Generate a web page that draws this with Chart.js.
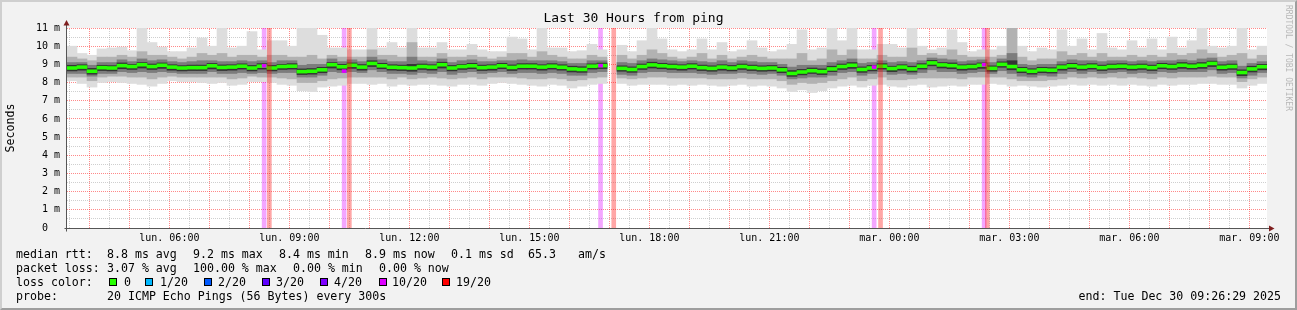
<!DOCTYPE html>
<html>
<head>
<meta charset="utf-8">
<title>Last 30 Hours from ping</title>
<script src="https://cdn.jsdelivr.net/npm/chart.js@4.4.1/dist/chart.umd.min.js"></script>
<style>
  body { margin: 0; background: #f2f2f2; }
  #frame { position: relative; width: 1297px; height: 310px; background: #f2f2f2; overflow: hidden;
           font-family: 'DejaVu Sans Mono', monospace; font-size: 11.6px; color: #000; }
  #frame canvas { position: absolute; left: 0; top: 0; }
  #shade { position: absolute; left: 0; top: 0; width: 1297px; height: 310px; box-sizing: border-box;
           border-top: 2px solid #cfcfcf; border-left: 2px solid #cfcfcf;
           border-bottom: 2px solid #9e9e9e; border-right: 2px solid #9e9e9e; pointer-events: none; }
  .lg { position: absolute; white-space: pre; line-height: 14px; height: 14px; }
  .box { position: absolute; width: 6px; height: 6px; border: 1px solid #000; top: 278px; }
  #wm { position: absolute; left: 1283px; top: 5px; writing-mode: vertical-rl; font-size: 8px;
        line-height: 10px; color: #b8b8b8; white-space: pre; }
</style>
</head>
<body>
<div id="frame">
  <canvas id="ping" width="1297" height="310"></canvas>

  <span class="lg" style="left:16px;top:247px">median rtt:</span>
  <span class="lg" style="left:107px;top:247px">8.8 ms avg</span>
  <span class="lg" style="left:193px;top:247px">9.2 ms max</span>
  <span class="lg" style="left:279px;top:247px">8.4 ms min</span>
  <span class="lg" style="left:365px;top:247px">8.9 ms now</span>
  <span class="lg" style="left:451px;top:247px">0.1 ms sd</span>
  <span class="lg" style="left:528px;top:247px">65.3</span>
  <span class="lg" style="left:578px;top:247px">am/s</span>

  <span class="lg" style="left:16px;top:261px">packet loss:</span>
  <span class="lg" style="left:107px;top:261px">3.07 % avg</span>
  <span class="lg" style="left:193px;top:261px">100.00 % max</span>
  <span class="lg" style="left:293px;top:261px">0.00 % min</span>
  <span class="lg" style="left:379px;top:261px">0.00 % now</span>

  <span class="lg" style="left:16px;top:275px">loss color:</span>
  <span class="box" style="left:109px;background:#26ff00"></span><span class="lg" style="left:124px;top:275px">0</span>
  <span class="box" style="left:145px;background:#00b8ff"></span><span class="lg" style="left:160px;top:275px">1/20</span>
  <span class="box" style="left:204px;background:#0059ff"></span><span class="lg" style="left:218px;top:275px">2/20</span>
  <span class="box" style="left:262px;background:#5e00ff"></span><span class="lg" style="left:276px;top:275px">3/20</span>
  <span class="box" style="left:320px;background:#7e00ff"></span><span class="lg" style="left:334px;top:275px">4/20</span>
  <span class="box" style="left:379px;background:#dd00ff"></span><span class="lg" style="left:392px;top:275px">10/20</span>
  <span class="box" style="left:442px;background:#ff0000"></span><span class="lg" style="left:456px;top:275px">19/20</span>

  <span class="lg" style="left:16px;top:289px">probe:</span>
  <span class="lg" style="left:107px;top:289px">20 ICMP Echo Pings (56 Bytes) every 300s</span>
  <span class="lg" style="right:16px;top:289px">end: Tue Dec 30 09:26:29 2025</span>

  <span id="wm">RRDTOOL / TOBI OETIKER</span>
  <div id="shade"></div>
</div>

<script>
// time axis in hours since lun. 00:00; graph runs lun. 03:26:29 -> mar. 09:26:29
const START = 3 + 26 / 60 + 29 / 3600;
const END = START + 30;
const SLOT = 0.25;   // one smoke column = 15 minutes

const TITLE = 'Last 30 Hours from ping';
const xTickHours = [6, 9, 12, 15, 18, 21, 24, 27, 30, 33];
const xTickLabels = ['lun. 06:00', 'lun. 09:00', 'lun. 12:00', 'lun. 15:00', 'lun. 18:00',
                     'lun. 21:00', 'mar. 00:00', 'mar. 03:00', 'mar. 06:00', 'mar. 09:00'];
const yTickLabels = ['0  ', '1 m', '2 m', '3 m', '4 m', '5 m', '6 m', '7 m', '8 m', '9 m', '10 m', '11 m'];

// median rtt (ms) per 15 min slot
const medianMs = [
  8.80,8.85,8.62,8.82,8.80,8.93,8.88,8.98,8.88,8.95,
  8.85,8.80,8.82,8.82,8.92,8.83,8.85,8.90,8.80,8.90,
  8.80,8.88,8.90,8.60,8.62,8.70,8.98,8.87,8.95,8.85,
  9.05,8.92,8.84,8.82,8.80,8.88,8.85,8.98,8.80,8.88,
  8.92,8.82,8.85,8.92,8.83,8.90,8.90,8.85,8.90,8.84,
  8.75,8.72,8.90,8.93,null,8.78,8.72,8.88,8.97,8.92,
  8.88,8.85,8.90,8.82,8.78,8.85,8.80,8.88,8.82,8.78,
  8.80,8.70,8.50,8.58,8.65,8.60,8.75,8.88,8.95,8.72,
  8.80,8.90,8.77,8.85,8.75,8.90,9.08,8.97,8.93,8.85,
  8.88,8.95,8.78,9.00,8.88,8.70,8.62,8.70,8.68,8.85,
  8.92,8.85,8.90,8.82,8.88,8.90,8.85,8.88,8.82,8.92,
  8.88,8.95,8.90,8.95,9.05,8.84,8.88,8.55,8.75,8.87];

// slowest / fastest ping of the 20
const maxMs = [
  10.0,9.6,9.5,9.85,9.9,9.95,9.75,11,10.2,9.95,
  9.7,9.7,9.9,10.45,10.0,11,9.9,10.0,10.8,9.8,
  10.3,10.3,10.0,11,11,10.6,9.9,9.9,9.8,9.8,
  11,9.9,10.2,9.9,11,9.9,9.9,10.2,9.8,9.8,
  10.1,9.8,9.7,9.7,10.5,10.4,9.8,11,9.9,9.9,
  9.7,9.75,10.1,9.8,null,10.05,9.7,10.3,11,10.4,
  9.8,9.7,9.8,10.4,9.8,10.2,9.7,9.8,10.3,9.9,
  9.7,9.8,10.1,10.9,9.8,9.9,11,10.3,11,9.8,
  9.8,10.1,10.1,9.9,11,10.0,9.8,9.9,10.9,10.2,
  9.7,9.8,9.8,10.0,11,10.0,9.7,9.9,9.8,10.9,
  10.0,10.4,9.8,10.7,9.9,9.8,10.3,9.9,10.4,9.8,
  10.5,9.9,10.3,11,10.0,9.9,10.0,11,9.8,10.0];
const minMs = [
  8.1,7.95,7.75,8.0,8.05,8.0,7.95,7.9,7.8,7.95,
  8.1,8.05,8.05,8.0,7.95,8.0,7.85,7.9,8.05,8.05,
  8.0,7.9,7.85,7.55,7.5,7.75,7.8,7.85,7.95,7.95,
  7.9,7.95,7.8,7.9,7.85,7.9,7.9,7.85,7.8,7.9,
  7.9,7.85,7.95,8.0,7.95,7.9,7.85,7.8,7.9,7.85,
  7.7,7.8,7.9,7.95,null,7.95,7.85,7.9,7.9,7.9,
  7.85,7.9,7.85,7.9,7.85,7.8,7.85,7.9,7.8,7.85,
  7.8,7.7,7.5,7.6,7.45,7.55,7.7,7.8,7.85,7.75,
  7.85,7.9,7.8,7.75,7.85,7.9,7.75,7.8,7.85,7.8,
  7.9,7.9,7.95,7.9,7.8,7.85,7.8,7.75,7.8,7.85,
  7.9,7.85,7.9,7.85,7.9,7.85,7.9,7.85,7.8,7.9,
  7.85,7.9,7.9,7.95,7.95,7.9,7.9,7.7,7.85,7.95];

// 3rd / 18th ping
const midHi = [
  9.4,9.3,9.2,9.4,9.4,9.5,9.4,9.7,9.5,9.5,
  9.4,9.3,9.4,9.6,9.5,9.6,9.4,9.5,9.5,9.4,
  9.5,9.5,9.4,9.4,9.5,9.3,9.5,9.4,9.4,9.4,
  9.8,9.5,9.5,9.4,10.2,9.4,9.4,9.6,9.4,9.4,
  9.5,9.4,9.3,9.4,9.6,9.6,9.4,9.7,9.5,9.4,
  9.3,9.3,9.5,9.4,null,9.5,9.3,9.5,9.8,9.6,
  9.4,9.3,9.4,9.6,9.3,9.5,9.3,9.4,9.5,9.4,
  9.3,9.3,9.3,9.6,9.2,9.3,9.8,9.5,9.8,9.3,
  9.3,9.5,9.4,9.4,9.9,9.5,9.6,9.5,9.8,9.5,
  9.4,9.4,9.4,9.5,11,9.4,9.2,9.3,9.3,9.7,
  9.5,9.6,9.4,9.6,9.4,9.4,9.5,9.4,9.5,9.4,
  9.6,9.5,9.6,9.8,9.6,9.4,9.5,9.6,9.3,9.5];
const midLo = [
  8.3,8.3,8.1,8.3,8.35,8.35,8.3,8.3,8.2,8.3,
  8.35,8.3,8.3,8.3,8.3,8.3,8.2,8.25,8.35,8.3,
  8.3,8.25,8.2,8.0,8.0,8.1,8.2,8.25,8.3,8.3,
  8.3,8.3,8.2,8.3,8.2,8.25,8.3,8.25,8.2,8.25,
  8.3,8.2,8.3,8.3,8.3,8.25,8.2,8.2,8.25,8.2,
  8.1,8.15,8.25,8.3,null,8.25,8.2,8.25,8.3,8.3,
  8.25,8.25,8.25,8.25,8.2,8.2,8.2,8.25,8.2,8.2,
  8.2,8.1,7.9,8.0,7.95,8.0,8.1,8.2,8.3,8.1,
  8.2,8.3,8.15,8.15,8.2,8.25,8.25,8.25,8.25,8.2,
  8.3,8.3,8.3,8.3,8.2,8.1,8.1,8.1,8.15,8.2,
  8.3,8.25,8.3,8.25,8.3,8.25,8.3,8.25,8.2,8.3,
  8.25,8.3,8.3,8.3,8.35,8.3,8.3,8.05,8.2,8.3];

// 6th / 15th ping
const innerHi = [
  9.1,9.1,8.95,9.1,9.1,9.25,9.15,9.3,9.2,9.25,
  9.15,9.1,9.15,9.2,9.2,9.15,9.15,9.2,9.15,9.2,
  9.1,9.2,9.2,8.95,9.0,9.0,9.3,9.15,9.25,9.15,
  9.4,9.25,9.15,9.15,9.4,9.2,9.15,9.3,9.1,9.2,
  9.25,9.15,9.15,9.2,9.2,9.25,9.2,9.2,9.2,9.15,
  9.05,9.05,9.2,9.2,null,9.1,9.05,9.2,9.3,9.25,
  9.2,9.15,9.2,9.15,9.1,9.2,9.1,9.2,9.15,9.1,
  9.1,9.0,8.85,8.95,8.95,8.95,9.1,9.2,9.3,9.05,
  9.1,9.2,9.1,9.15,9.1,9.2,9.35,9.3,9.25,9.15,
  9.2,9.25,9.1,9.3,9.6,9.0,8.95,9.0,9.0,9.15,
  9.25,9.2,9.2,9.15,9.2,9.2,9.15,9.2,9.15,9.2,
  9.2,9.25,9.2,9.3,9.35,9.15,9.2,8.9,9.05,9.15];
const innerLo = [
  8.5,8.5,8.35,8.5,8.5,8.6,8.55,8.6,8.55,8.6,
  8.55,8.5,8.5,8.5,8.6,8.5,8.5,8.55,8.5,8.55,
  8.5,8.55,8.55,8.3,8.3,8.4,8.6,8.55,8.6,8.55,
  8.7,8.6,8.5,8.5,8.45,8.55,8.5,8.6,8.45,8.55,
  8.6,8.5,8.55,8.6,8.5,8.55,8.55,8.5,8.55,8.5,
  8.4,8.4,8.55,8.6,null,8.45,8.4,8.55,8.6,8.6,
  8.55,8.55,8.55,8.5,8.45,8.5,8.5,8.55,8.5,8.45,
  8.5,8.4,8.2,8.25,8.3,8.3,8.4,8.55,8.6,8.4,
  8.5,8.6,8.45,8.5,8.45,8.55,8.7,8.6,8.6,8.5,
  8.55,8.6,8.5,8.65,8.5,8.35,8.3,8.4,8.35,8.5,
  8.6,8.5,8.6,8.5,8.55,8.6,8.5,8.55,8.5,8.6,
  8.55,8.6,8.6,8.6,8.7,8.5,8.55,8.25,8.4,8.55];

// 9th / 12th ping
const coreHi = [
  8.95,8.98,8.78,8.95,8.93,9.08,9.0,9.1,9.02,9.08,
  8.98,8.93,8.96,8.96,9.05,8.97,8.98,9.03,8.94,9.04,
  8.94,9.0,9.04,8.75,8.77,8.84,9.1,9.0,9.08,8.99,
  9.2,9.06,8.98,8.96,9.0,9.02,8.98,9.12,8.94,9.0,
  9.06,8.96,8.98,9.06,8.97,9.04,9.04,8.98,9.04,8.98,
  8.9,8.87,9.03,9.07,null,8.92,8.86,9.02,9.12,9.06,
  9.02,8.98,9.04,8.96,8.92,8.98,8.94,9.02,8.96,8.92,
  8.94,8.84,8.66,8.72,8.8,8.75,8.9,9.02,9.1,8.86,
  8.94,9.04,8.9,8.98,8.9,9.04,9.22,9.1,9.08,8.98,
  9.02,9.08,8.92,9.14,9.2,8.84,8.76,8.84,8.82,8.98,
  9.06,8.98,9.04,8.96,9.02,9.04,8.98,9.02,8.96,9.06,
  9.02,9.1,9.04,9.1,9.18,8.98,9.02,8.7,8.9,9.0];
const coreLo = [
  8.64,8.68,8.46,8.66,8.64,8.76,8.72,8.8,8.72,8.78,
  8.68,8.64,8.66,8.66,8.75,8.66,8.68,8.74,8.64,8.74,
  8.64,8.72,8.74,8.44,8.46,8.54,8.8,8.7,8.78,8.68,
  8.88,8.76,8.68,8.66,8.62,8.72,8.68,8.8,8.64,8.72,
  8.76,8.66,8.68,8.76,8.66,8.74,8.74,8.68,8.74,8.68,
  8.58,8.56,8.74,8.77,null,8.62,8.56,8.72,8.8,8.76,
  8.72,8.68,8.74,8.66,8.62,8.68,8.64,8.72,8.66,8.62,
  8.64,8.54,8.34,8.42,8.5,8.44,8.6,8.72,8.78,8.56,
  8.64,8.74,8.6,8.68,8.58,8.74,8.92,8.8,8.76,8.68,
  8.72,8.78,8.62,8.84,8.7,8.54,8.46,8.54,8.52,8.68,
  8.76,8.68,8.74,8.66,8.72,8.74,8.68,8.72,8.66,8.76,
  8.72,8.78,8.74,8.78,8.88,8.68,8.72,8.38,8.58,8.7];

// 5 minute steps with packet loss (hours since lun. 00:00)
const loss10At = [8.37, 10.37, 16.78, 23.62, 26.37];
const loss10Median = [8.92, 8.63, 8.93, 8.85, 8.98];
const loss19At = [8.50, 10.50, 17.11, 23.78, 26.45];

const Y_MAX = 11;
const MEDIAN_HALF = 0.08;   // drawn median marker, half height in ms

function slotX(i) { return START + SLOT * (i + 0.5); }
function rangeData(lo, hi) {
  const out = [];
  lo.forEach((v, i) => {
    if (v != null && hi[i] != null) out.push({ x: slotX(i), y: [v, hi[i]] });
  });
  return out;
}
function bar(label, data, color, order, thickness) {
  return { type: 'bar', label: label, data: data, backgroundColor: color, order: order,
           barThickness: thickness, grouped: false, borderWidth: 0, borderSkipped: false };
}

const medianBand = rangeData(medianMs.map(v => v == null ? null : v - MEDIAN_HALF),
                             medianMs.map(v => v == null ? null : v + MEDIAN_HALF));
const halfHours = [];
for (let k = Math.ceil(START * 2); k <= Math.floor(END * 2); k++) halfHours.push(k / 2);
const halfMs = [];
for (let k = 0; k <= Y_MAX * 2; k++) halfMs.push(k / 2);

// minor grid every half step, major (red) grid on whole hours / whole ms
const GRID = 'rgba(140,140,140,0.42)';
const MGRID = 'rgba(255,40,40,0.55)';

const rrdFrame = {
  id: 'rrdFrame',
  beforeDraw(chart) {
    const { ctx, chartArea: a } = chart;
    ctx.save();
    ctx.fillStyle = '#ffffff';
    ctx.fillRect(a.left, a.top, a.right - a.left, a.bottom - a.top);
    ctx.restore();
  },
  beforeDatasetsDraw(chart) {
    const { ctx, chartArea: a, scales } = chart;
    ctx.save();
    ctx.lineWidth = 1;
    ctx.setLineDash([1, 1]);
    const line = (x1, y1, x2, y2, color) => {
      ctx.strokeStyle = color;
      ctx.beginPath();
      ctx.moveTo(x1, y1);
      ctx.lineTo(x2, y2);
      ctx.stroke();
    };
    halfHours.forEach(v => {
      const x = Math.floor(scales.x.getPixelForValue(v)) + 0.5;
      line(x, a.bottom, x, a.top, Number.isInteger(v) ? MGRID : GRID);
    });
    halfMs.forEach(v => {
      if (v === 0) return;
      const y = Math.floor(scales.y.getPixelForValue(v)) + 0.5;
      line(a.left, y, a.right, y, Number.isInteger(v) ? MGRID : GRID);
    });
    ctx.restore();
  },
  afterDatasetsDraw(chart) {
    const { ctx, chartArea: a } = chart;
    const x0 = a.left - 0.5, y0 = a.bottom + 0.5;
    ctx.save();
    ctx.strokeStyle = '#555555';
    ctx.lineWidth = 1;
    ctx.beginPath();
    ctx.moveTo(x0, y0 + 3);
    ctx.lineTo(x0, a.top - 3);
    ctx.moveTo(x0 - 2, y0);
    ctx.lineTo(a.right + 2, y0);
    ctx.stroke();
    ctx.fillStyle = '#7f1f1f';
    ctx.beginPath();
    ctx.moveTo(x0 - 3, a.top - 2.5);
    ctx.lineTo(x0 + 3, a.top - 2.5);
    ctx.lineTo(x0, a.top - 8);
    ctx.closePath();
    ctx.fill();
    ctx.beginPath();
    ctx.moveTo(a.right + 2, y0 - 3);
    ctx.lineTo(a.right + 2, y0 + 3);
    ctx.lineTo(a.right + 7.5, y0);
    ctx.closePath();
    ctx.fill();
    ctx.restore();
  }
};

Chart.defaults.font.family = "'DejaVu Sans Mono', monospace";
Chart.defaults.color = '#000000';

new Chart(document.getElementById('ping'), {
  type: 'bar',
  data: {
    datasets: [
      bar('10/20 loss', loss10At.map(t => ({ x: t, y: [0, Y_MAX] })), 'rgba(221,0,255,0.35)', 10, 4),
      bar('ping 1-20', rangeData(minMs, maxMs), '#dddddd', 9, 10),
      bar('ping 3-18', rangeData(midLo, midHi), '#b2b2b2', 8, 10),
      bar('ping 6-15', rangeData(innerLo, innerHi), '#7c7c7c', 7, 10),
      bar('ping 9-12', rangeData(coreLo, coreHi), '#343434', 6, 10),
      bar('median rtt', medianBand, '#26ff00', 5, 10),
      bar('median 10/20', loss10At.map((t, i) => ({ x: t, y: [loss10Median[i] - MEDIAN_HALF, loss10Median[i] + MEDIAN_HALF] })), '#dd00ff', 4, 4),
      bar('19/20 loss', loss19At.map(t => ({ x: t, y: [0, Y_MAX] })), 'rgba(255,0,0,0.35)', 3, 4)
    ]
  },
  options: {
    responsive: false,
    animation: false,
    layout: { padding: { left: 0, right: 30, top: 0, bottom: 0 } },
    plugins: {
      legend: { display: false },
      tooltip: { enabled: false },
      title: {
        display: true,
        text: TITLE,
        color: '#000000',
        font: { size: 13, weight: 'normal' },
        padding: { top: 11, bottom: 1.4 }
      }
    },
    scales: {
      x: {
        type: 'linear',
        min: START,
        max: END,
        offset: false,
        afterFit: s => { s.height = 82; },
        afterBuildTicks: s => { s.ticks = xTickHours.map(v => ({ value: v })); },
        grid: { display: false, drawTicks: false, offset: false },
        border: { display: false },
        ticks: {
          autoSkip: false,
          maxRotation: 0,
          padding: 4,
          font: { size: 10 },
          callback: v => {
            const k = xTickHours.indexOf(v);
            return k < 0 ? '' : xTickLabels[k];
          }
        }
      },
      y: {
        min: 0,
        max: Y_MAX,
        afterFit: s => { s.width = 67; },
        afterBuildTicks: s => { s.ticks = yTickLabels.map((_, v) => ({ value: v })); },
        grid: { display: false, drawTicks: false },
        border: { display: false },
        title: { display: true, text: 'Seconds', font: { size: 11.6 }, padding: { top: 4, bottom: 4 } },
        ticks: {
          padding: 7,
          font: { size: 10 },
          callback: v => yTickLabels[v]
        }
      }
    }
  },
  plugins: [rrdFrame]
});
</script>
</body>
</html>
